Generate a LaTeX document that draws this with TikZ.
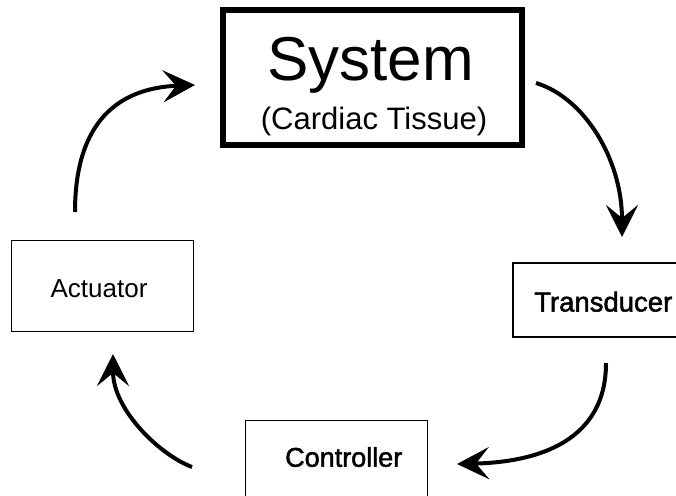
\documentclass[tikz,border=0pt]{standalone}
\usepackage{fontspec}
\setmainfont{Liberation Sans}
\newfontfamily\heavyfont[FakeBold=1.8]{Liberation Sans}
\usetikzlibrary{arrows.meta}

\tikzset{
  thickbox/.style={draw=black, line width=6pt, inner sep=0pt},
  thinbox/.style={draw=black, line width=1.3pt, inner sep=0pt},
  lbl/.style={inner sep=0pt, text=black},
  flow/.style={line width=4pt,
    -{Stealth[length=32pt, width=32pt, inset=13pt]}}
}

\begin{document}
\begin{tikzpicture}[x=1pt, y=-1pt]
  \useasboundingbox (0,0) rectangle (676,495);
  \clip (0,0) rectangle (676,495);

  % boxes
  \node[thickbox, minimum width=299pt, minimum height=135pt] (sys) at (372.5,77.5) {};
  \node[thinbox, minimum width=182pt, minimum height=91pt] (act) at (102.5,285.8) {};
  \node[thinbox, minimum width=187pt, minimum height=74pt] (trans) at (606.5,300) {};
  \node[thinbox, minimum width=182pt, minimum height=100pt] (ctrl) at (336.3,470.5) {};

  % box texts
  \node[lbl, anchor=base] (systitle) at (370.5,80) {\fontsize{62}{62}\selectfont System};
  \node[lbl, anchor=base] (syssub) at (374,129) {\fontsize{31}{31}\selectfont (Cardiac Tissue)};
  \node[lbl, anchor=base] (acttext) at (99,297.7) {\fontsize{26}{26}\selectfont Actuator};
  \node[lbl, anchor=base west] (transtext) at (534,311.5) {\heavyfont\fontsize{27.5}{27.5}\selectfont Transducer};
  \node[lbl, anchor=base west] (ctrltext) at (285,466.7) {\heavyfont\fontsize{27}{27}\selectfont Controller};

  % arrow end points
  \coordinate (a1s) at (75,212);
  \coordinate (a1e) at (195,85);
  \coordinate (a2s) at (536,83);
  \coordinate (a2e) at (622,237);
  \coordinate (a3s) at (606,363);
  \coordinate (a3e) at (457,464);
  \coordinate (a4s) at (192,467);
  \coordinate (a4e) at (113,354);

  % feedback loop
  \draw[flow] (a1s) .. controls (75,120) and (120,88) .. (a1e);
  \draw[flow] (a2s) .. controls (585,98) and (622,160) .. (a2e);
  \draw[flow] (a3s) .. controls (606,440) and (540,462) .. (a3e);
  \draw[flow] (a4s) .. controls (160,455) and (113,410) .. (a4e);
\end{tikzpicture}
\end{document}
